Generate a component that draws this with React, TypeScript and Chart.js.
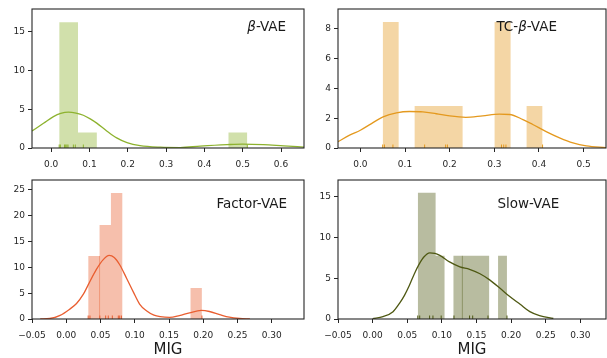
import React, { useEffect, useRef } from 'react';
import { Chart, registerables } from 'chart.js';
Chart.register(...registerables);

// ---------- β-VAE ----------
const betaBinStart = 0.021;
const betaBinWidth = 0.0491;
const betaBinHeights = [16.2, 2.0, 0, 0, 0, 0, 0, 0, 0, 2.0];
const betaKdeX = [-0.05, -0.02, 0.006, 0.025, 0.045, 0.065, 0.084, 0.102, 0.119, 0.145, 0.171, 0.198, 0.232, 0.285, 0.337, 0.389, 0.459, 0.5, 0.554, 0.607, 0.66];
const betaKdeY = [2.19, 3.18, 4.04, 4.45, 4.62, 4.5, 4.22, 3.75, 3.2, 2.2, 1.3, 0.69, 0.3, 0.1, 0.06, 0.24, 0.43, 0.5, 0.43, 0.27, 0.12];
const betaRug = [0.021, 0.024, 0.035, 0.038, 0.041, 0.044, 0.058, 0.063, 0.084, 0.512];
const betaXTicks = [0, 0.1, 0.2, 0.3, 0.4, 0.5, 0.6];
const betaYTicks = [0, 5, 10, 15];

// ---------- TC-β-VAE ----------
const tcBinStart = 0.05;
const tcBinWidth = 0.0358;
const tcBinHeights = [8.45, 0, 2.82, 2.82, 2.82, 0, 0, 8.45, 0, 2.82];
const tcKdeX = [-0.05, -0.024, 0.0, 0.025, 0.051, 0.081, 0.11, 0.14, 0.17, 0.2, 0.236, 0.274, 0.311, 0.334, 0.364, 0.386, 0.416, 0.446, 0.476, 0.506, 0.55];
const tcKdeY = [0.42, 0.86, 1.19, 1.64, 2.09, 2.36, 2.45, 2.43, 2.3, 2.15, 2.06, 2.16, 2.27, 2.25, 1.91, 1.58, 1.1, 0.68, 0.34, 0.14, 0.03];
const tcRug = [0.05, 0.054, 0.073, 0.144, 0.191, 0.195, 0.316, 0.321, 0.326, 0.408];
const tcXTicks = [0, 0.1, 0.2, 0.3, 0.4, 0.5];
const tcYTicks = [0, 2, 4, 6, 8];

// ---------- Factor-VAE ----------
const factorBinStart = 0.032;
const factorBinWidth = 0.0166;
const factorBinHeights = [12.2, 18.2, 24.4, 0, 0, 0, 0, 0, 0, 6.0];
const factorKdeX = [-0.038, -0.024, -0.009, 0.005, 0.015, 0.025, 0.032, 0.044, 0.054, 0.0627, 0.07, 0.078, 0.088, 0.098, 0.107, 0.117, 0.128, 0.137, 0.151, 0.165, 0.18, 0.197, 0.209, 0.224, 0.238, 0.253, 0.268];
const factorKdeY = [0.02, 0.1, 0.7, 1.9, 3.0, 4.8, 6.6, 9.6, 11.5, 12.3, 11.9, 10.5, 7.9, 5.2, 2.9, 1.6, 0.75, 0.45, 0.3, 0.65, 1.2, 1.65, 1.45, 0.85, 0.35, 0.1, 0.02];
const factorRug = [0.032, 0.0346, 0.049, 0.0575, 0.0613, 0.0672, 0.076, 0.078, 0.0805, 0.198];
const factorSeamX = [0.0486];
const factorSeamY = [12.2];

// ---------- Slow-VAE ----------
const slowBinStart = 0.0652;
const slowBinWidth = 0.01288;
const slowBinHeights = [15.5, 15.5, 7.75, 0, 7.75, 7.75, 7.75, 7.75, 0, 7.75];
const slowKdeX = [0.0, 0.015, 0.0295, 0.039, 0.046, 0.053, 0.06, 0.067, 0.074, 0.0825, 0.09, 0.097, 0.111, 0.126, 0.14, 0.155, 0.169, 0.184, 0.198, 0.213, 0.227, 0.241, 0.261];
const slowKdeY = [0.05, 0.29, 0.9, 1.95, 2.9, 4.1, 5.5, 6.7, 7.6, 8.1, 8.05, 7.8, 7.0, 6.4, 6.1, 5.55, 4.8, 3.77, 2.75, 1.8, 0.9, 0.42, 0.06];
const slowRug = [0.0652, 0.068, 0.0823, 0.0871, 0.099, 0.1175, 0.14, 0.1445, 0.1666, 0.194];
const slowSeamX = [0.1296];
const slowSeamY = [7.75];

const migXTicks = [-0.05, 0, 0.05, 0.1, 0.15, 0.2, 0.25, 0.3];
const factorYTicks = [0, 5, 10, 15, 20, 25];
const slowYTicks = [0, 5, 10, 15];

const FONT = '"DejaVu Sans", sans-serif';
const INK = '#262626';

type Part = { t: string; it?: boolean };
type PanelCfg = {
  left: number; top: number; w: number; h: number;
  padTop: number; padRight: number; xAxisH: number;
  xMin: number; xMax: number; yMax: number;
  xTicks: number[]; yTicks: number[]; xDec: number;
  binStart: number; binWidth: number; bins: number[];
  kdeX: number[]; kdeY: number[]; rug: number[];
  seamX: number[]; seamY: number[];
  rgb: string; title: Part[]; titleDx: number; titleDy: number; xTitle?: string;
};

const panels: PanelCfg[] = [
  {
    left: 0, top: 0, w: 310, h: 170, padTop: 9, padRight: 6, xAxisH: 22,
    xMin: -0.05, xMax: 0.66, yMax: 17.9, xTicks: betaXTicks, yTicks: betaYTicks, xDec: 1,
    binStart: betaBinStart, binWidth: betaBinWidth, bins: betaBinHeights,
    kdeX: betaKdeX, kdeY: betaKdeY, rug: betaRug, seamX: [], seamY: [],
    rgb: '141,178,46', title: [{ t: 'β', it: true }, { t: '-VAE' }], titleDx: 215.3, titleDy: 22,
  },
  {
    left: 306, top: 0, w: 301, h: 170, padTop: 9, padRight: 1, xAxisH: 22,
    xMin: -0.05, xMax: 0.55, yMax: 9.33, xTicks: tcXTicks, yTicks: tcYTicks, xDec: 1,
    binStart: tcBinStart, binWidth: tcBinWidth, bins: tcBinHeights,
    kdeX: tcKdeX, kdeY: tcKdeY, rug: tcRug, seamX: [], seamY: [],
    rgb: '228,153,30', title: [{ t: 'TC-' }, { t: 'β', it: true }, { t: '-VAE' }], titleDx: 158.4, titleDy: 22,
  },
  {
    left: 0, top: 170, w: 310, h: 188, padTop: 10, padRight: 6, xAxisH: 39,
    xMin: -0.05, xMax: 0.347, yMax: 26.9, xTicks: migXTicks, yTicks: factorYTicks, xDec: 2,
    binStart: factorBinStart, binWidth: factorBinWidth, bins: factorBinHeights,
    kdeX: factorKdeX, kdeY: factorKdeY, rug: factorRug, seamX: factorSeamX, seamY: factorSeamY,
    rgb: '233,94,48', title: [{ t: 'Factor-VAE' }], titleDx: 184.4, titleDy: 28, xTitle: 'MIG',
  },
  {
    left: 306, top: 170, w: 301, h: 188, padTop: 10, padRight: 1, xAxisH: 39,
    xMin: -0.05, xMax: 0.337, yMax: 17.05, xTicks: migXTicks, yTicks: slowYTicks, xDec: 2,
    binStart: slowBinStart, binWidth: slowBinWidth, bins: slowBinHeights,
    kdeX: slowKdeX, kdeY: slowKdeY, rug: slowRug, seamX: slowSeamX, seamY: slowSeamY,
    rgb: '78,88,18', title: [{ t: 'Slow-VAE' }], titleDx: 159.4, titleDy: 28, xTitle: 'MIG',
  },
];

const decoPlugin = {
  id: 'deco',
  afterDatasetsDraw(chart: any, _a: any, opts: any) {
    const { ctx, chartArea } = chart;
    const xs = chart.scales.x;
    ctx.save();
    ctx.strokeStyle = `rgb(${opts.rgb})`;
    ctx.lineWidth = 1;
    for (const v of opts.rug) {
      const px = xs.getPixelForValue(v);
      ctx.beginPath();
      ctx.moveTo(px, chartArea.bottom);
      ctx.lineTo(px, chartArea.bottom - 3.5);
      ctx.stroke();
    }
    ctx.restore();
  },
  afterDraw(chart: any, _a: any, opts: any) {
    const { ctx, chartArea } = chart;
    ctx.save();
    ctx.strokeStyle = INK;
    ctx.lineWidth = 1.1;
    ctx.strokeRect(chartArea.left, chartArea.top, chartArea.right - chartArea.left, chartArea.bottom - chartArea.top);
    let x = chartArea.left + opts.titleDx;
    const y = chartArea.top + opts.titleDy;
    ctx.fillStyle = '#1a1a1a';
    ctx.textBaseline = 'alphabetic';
    ctx.textAlign = 'left';
    for (const p of opts.title as Part[]) {
      ctx.font = `${p.it ? 'italic ' : ''}13.5px ${FONT}`;
      ctx.fillText(p.t, x, y);
      x += ctx.measureText(p.t).width;
    }
    ctx.restore();
  },
};

function Panel({ cfg }: { cfg: PanelCfg }) {
  const ref = useRef<HTMLCanvasElement>(null);
  useEffect(() => {
    if (!ref.current) return;
    const fill = `rgba(${cfg.rgb},0.4)`;
    // histogram outline as a stepped polygon (bin edges from read start/width)
    const n = cfg.bins.length;
    const hist: { x: number; y: number }[] = [{ x: cfg.binStart, y: 0 }];
    cfg.bins.forEach((h, i) => hist.push({ x: cfg.binStart + i * cfg.binWidth, y: h }));
    hist.push({ x: cfg.binStart + n * cfg.binWidth, y: 0 });
    const kde = cfg.kdeX.map((x, i) => ({ x, y: cfg.kdeY[i] }));
    const seams = cfg.seamX.map((sx, i) => ({
      data: [{ x: sx, y: 0 }, { x: sx, y: cfg.seamY[i] }],
      borderColor: fill,
      borderWidth: 1,
      pointRadius: 0,
      fill: false,
      order: 1,
    }));
    const fmt = (v: number) => v.toFixed(cfg.xDec).replace('-', '\u2212');
    const chart = new Chart(ref.current, {
      type: 'line',
      data: {
        datasets: [
          {
            data: kde,
            borderColor: `rgb(${cfg.rgb})`,
            borderWidth: 1.3,
            pointRadius: 0,
            fill: false,
            cubicInterpolationMode: 'monotone',
            order: 0,
          } as any,
          ...(seams as any[]),
          {
            data: hist,
            stepped: 'before',
            backgroundColor: fill,
            borderColor: 'rgba(0,0,0,0)',
            borderWidth: 0,
            pointRadius: 0,
            fill: 'origin',
            order: 2,
          } as any,
        ],
      },
      options: {
        animation: false,
        responsive: false,
        maintainAspectRatio: false,
        layout: { padding: { top: cfg.padTop, right: cfg.padRight, left: 0, bottom: 0 } },
        plugins: {
          legend: { display: false },
          tooltip: { enabled: false },
          deco: { rgb: cfg.rgb, rug: cfg.rug, title: cfg.title, titleDx: cfg.titleDx, titleDy: cfg.titleDy },
        } as any,
        scales: {
          x: {
            type: 'linear',
            min: cfg.xMin,
            max: cfg.xMax,
            offset: false,
            grid: { display: true, offset: false, drawOnChartArea: false, drawTicks: true, tickLength: 4, color: INK, tickWidth: 1 },
            border: { display: false },
            ticks: {
              font: { family: FONT, size: 9 },
              color: INK,
              padding: 7,
              maxRotation: 0,
              autoSkip: false,
              callback: (v: any) => fmt(Number(v)),
            },
            afterBuildTicks: (s: any) => { s.ticks = cfg.xTicks.map((v) => ({ value: v })); },
            afterFit: (s: any) => { s.height = cfg.xAxisH; },
            title: cfg.xTitle
              ? { display: true, text: cfg.xTitle, color: '#1a1a1a', font: { family: FONT, size: 15, lineHeight: 1 }, padding: 0 }
              : { display: false },
          } as any,
          y: {
            type: 'linear',
            min: 0,
            max: cfg.yMax,
            grid: { display: true, drawOnChartArea: false, drawTicks: true, tickLength: 4, color: INK, tickWidth: 1 },
            border: { display: false },
            ticks: {
              font: { family: FONT, size: 9 },
              color: INK,
              padding: 3,
              callback: (v: any) => String(v),
            },
            afterBuildTicks: (s: any) => { s.ticks = cfg.yTicks.map((v) => ({ value: v })); },
            afterFit: (s: any) => { s.width = 32; },
          } as any,
        },
      },
      plugins: [decoPlugin as any],
    });
    return () => chart.destroy();
  }, [cfg]);
  return (
    <canvas
      ref={ref}
      width={cfg.w}
      height={cfg.h}
      style={{ position: 'absolute', left: cfg.left, top: cfg.top, width: cfg.w, height: cfg.h }}
    />
  );
}

export default function App() {
  return (
    <div style={{ position: 'absolute', left: 0, top: 0, width: 607, height: 358, background: '#fff', overflow: 'hidden' }}>
      {panels.map((p, i) => (
        <Panel key={i} cfg={p} />
      ))}
    </div>
  );
}
